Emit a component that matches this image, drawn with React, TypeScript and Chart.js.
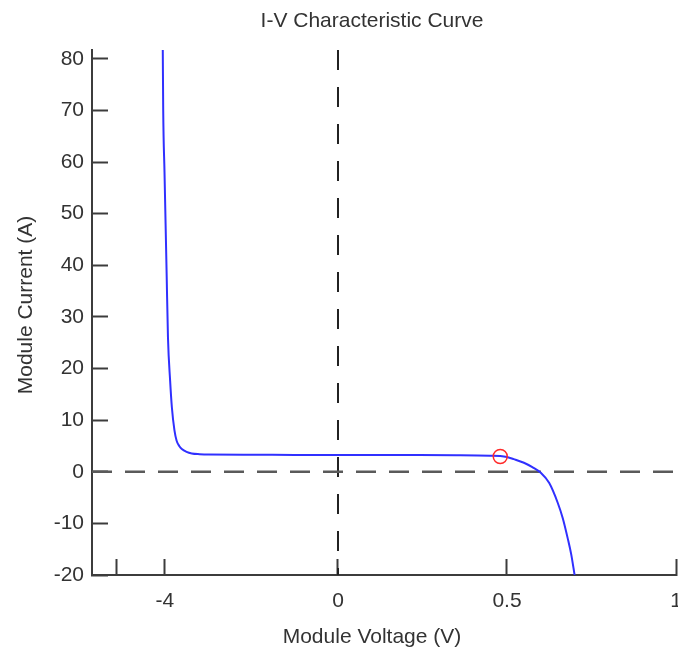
import React, { useEffect, useRef } from 'react';
import { Chart, registerables, LinearScale } from 'chart.js';

const TITLE = 'I-V Characteristic Curve';
const X_TITLE = 'Module Voltage (V)';
const Y_TITLE = 'Module Current (A)';

// Module voltage (V) and current (A) along the I-V curve
const VOLTAGE = [-4.05, -4.04, -4.01, -3.96, -3.93, -3.88, -3.84, -3.78, -3.73, -3.67, -3.61, -3.5, -3.38, -3.2, -3.0, -2.0, -1.0, 0, 0.2, 0.35, 0.45, 0.48, 0.5, 0.52, 0.55, 0.575, 0.6, 0.625, 0.65, 0.665, 0.68, 0.69, 0.7];
const CURRENT = [81.7, 70, 58, 38, 26, 17.6, 12.5, 8, 6, 5.0, 4.4, 3.85, 3.55, 3.4, 3.32, 3.28, 3.26, 3.25, 3.23, 3.2, 3.12, 3.05, 2.85, 2.45, 1.75, 0.9, -0.2, -2.2, -6, -9, -13, -16, -20];

// Maximum power point marker
const MPP_VOLTAGE = [0.48];
const MPP_CURRENT = [2.95];

// Axis ranges and ticks
const X_MIN = -5.686;
const X_MAX = 1;
const X_TICKS = [-5.11, -4, 0, 0.5, 1];
const X_TICK_LABELS = ['', '-4', '0', '0.5', '1'];
const Y_MIN = -20;
const Y_MAX = 81.7;
const Y_TICKS = [-20, -10, 0, 10, 20, 30, 40, 50, 60, 70, 80];

// Reverse-bias side of the voltage axis is compressed by this factor
const NEG_COMPRESSION = 0.128;
const warp = (v: number) => (v < 0 ? v * NEG_COMPRESSION : v);
const unwarp = (u: number) => (u < 0 ? u / NEG_COMPRESSION : u);

class PiecewiseScale extends LinearScale {
  static id = 'piecewise';
  static defaults = LinearScale.defaults;
  getPixelForValue(value: number) {
    const a = warp(this.min);
    const b = warp(this.max);
    return this.getPixelForDecimal((warp(value) - a) / (b - a));
  }
  getValueForPixel(pixel: number) {
    const a = warp(this.min);
    const b = warp(this.max);
    return unwarp(a + this.getDecimalForPixel(pixel) * (b - a));
  }
}

Chart.register(...registerables, PiecewiseScale);

const FONT_FAMILY = '"Liberation Sans", Arial, sans-serif';
const TEXT_COLOR = '#333333';
const AXIS_COLOR = '#3c3c3c';

const axisTextPlugin = {
  id: 'axisTexts',
  afterDraw(chart: any) {
    const { ctx, chartArea } = chart;
    const cx = chartArea.left + 280;
    ctx.save();
    ctx.fillStyle = TEXT_COLOR;
    ctx.font = `21px ${FONT_FAMILY}`;
    ctx.textAlign = 'center';
    ctx.textBaseline = 'middle';
    ctx.fillText(TITLE, cx, chartArea.top - 29);
    ctx.fillText(X_TITLE, cx, chartArea.bottom + 62);
    ctx.translate(chartArea.left - 66, chartArea.top + 255);
    ctx.rotate(-Math.PI / 2);
    ctx.fillText(Y_TITLE, 0, 0);
    ctx.restore();
  },
};

export default function App() {
  const ref = useRef<HTMLCanvasElement>(null);

  useEffect(() => {
    const curve = VOLTAGE.map((v, i) => ({ x: v, y: CURRENT[i] }));
    const mpp = MPP_VOLTAGE.map((v, i) => ({ x: v, y: MPP_CURRENT[i] }));

    const chart = new Chart(ref.current as HTMLCanvasElement, {
      type: 'line',
      data: {
        datasets: [
          {
            data: [{ x: X_MIN, y: 0 }, { x: X_MAX, y: 0 }],
            borderColor: '#5a5a5a',
            borderWidth: 2.5,
            borderDash: [20, 13],
            pointRadius: 0,
            order: 3,
          },
          {
            data: [{ x: 0, y: Y_MAX }, { x: 0, y: Y_MIN }],
            borderColor: '#222222',
            borderWidth: 2,
            borderDash: [20, 17],
            pointRadius: 0,
            order: 3,
          },
          {
            data: curve,
            borderColor: '#3030ff',
            borderWidth: 2,
            pointRadius: 0,
            cubicInterpolationMode: 'monotone',
            order: 2,
          },
          {
            data: mpp,
            showLine: false,
            pointRadius: 7,
            pointBorderWidth: 1.5,
            pointBorderColor: '#ff2a2a',
            pointBackgroundColor: 'rgba(0,0,0,0)',
            order: 1,
          },
        ],
      } as any,
      options: {
        responsive: false,
        animation: false,
        events: [],
        layout: { autoPadding: false, padding: { top: 50, right: 2, left: 0, bottom: 0 } },
        plugins: {
          legend: { display: false },
          tooltip: { enabled: false },
          title: { display: false },
        },
        scales: {
          x: {
            type: 'piecewise' as any,
            min: X_MIN,
            max: X_MAX,
            afterBuildTicks: (axis: any) => {
              axis.ticks = X_TICKS.map((value) => ({ value }));
            },
            afterFit: (s: any) => {
              s.height = 83;
              s.paddingLeft = 0;
              s.paddingRight = 0;
            },
            grid: {
              drawOnChartArea: false,
              drawTicks: true,
              tickLength: -16,
              tickWidth: 2,
              tickColor: AXIS_COLOR,
            },
            border: { display: true, color: AXIS_COLOR, width: 2 },
            ticks: {
              autoSkip: false,
              maxRotation: 0,
              padding: 30,
              color: TEXT_COLOR,
              font: { family: FONT_FAMILY, size: 21 },
              callback: (_v: any, i: number) => X_TICK_LABELS[i],
            },
          },
          y: {
            type: 'linear',
            min: Y_MIN,
            max: Y_MAX,
            afterBuildTicks: (axis: any) => {
              axis.ticks = Y_TICKS.map((value) => ({ value }));
            },
            afterFit: (s: any) => {
              s.width = 92;
              s.paddingTop = 0;
              s.paddingBottom = 0;
            },
            grid: {
              drawOnChartArea: false,
              drawTicks: true,
              tickLength: -16,
              tickWidth: 2,
              tickColor: AXIS_COLOR,
            },
            border: { display: true, color: AXIS_COLOR, width: 2 },
            ticks: {
              autoSkip: false,
              padding: 24,
              color: TEXT_COLOR,
              font: { family: FONT_FAMILY, size: 21 },
              callback: (v: any) => String(v),
            },
          },
        },
      },
      plugins: [axisTextPlugin],
    });

    return () => chart.destroy();
  }, []);

  return (
    <div style={{ position: 'fixed', left: 0, top: 0, width: 678, height: 658, background: '#ffffff' }}>
      <canvas ref={ref} width={678} height={658} />
    </div>
  );
}
